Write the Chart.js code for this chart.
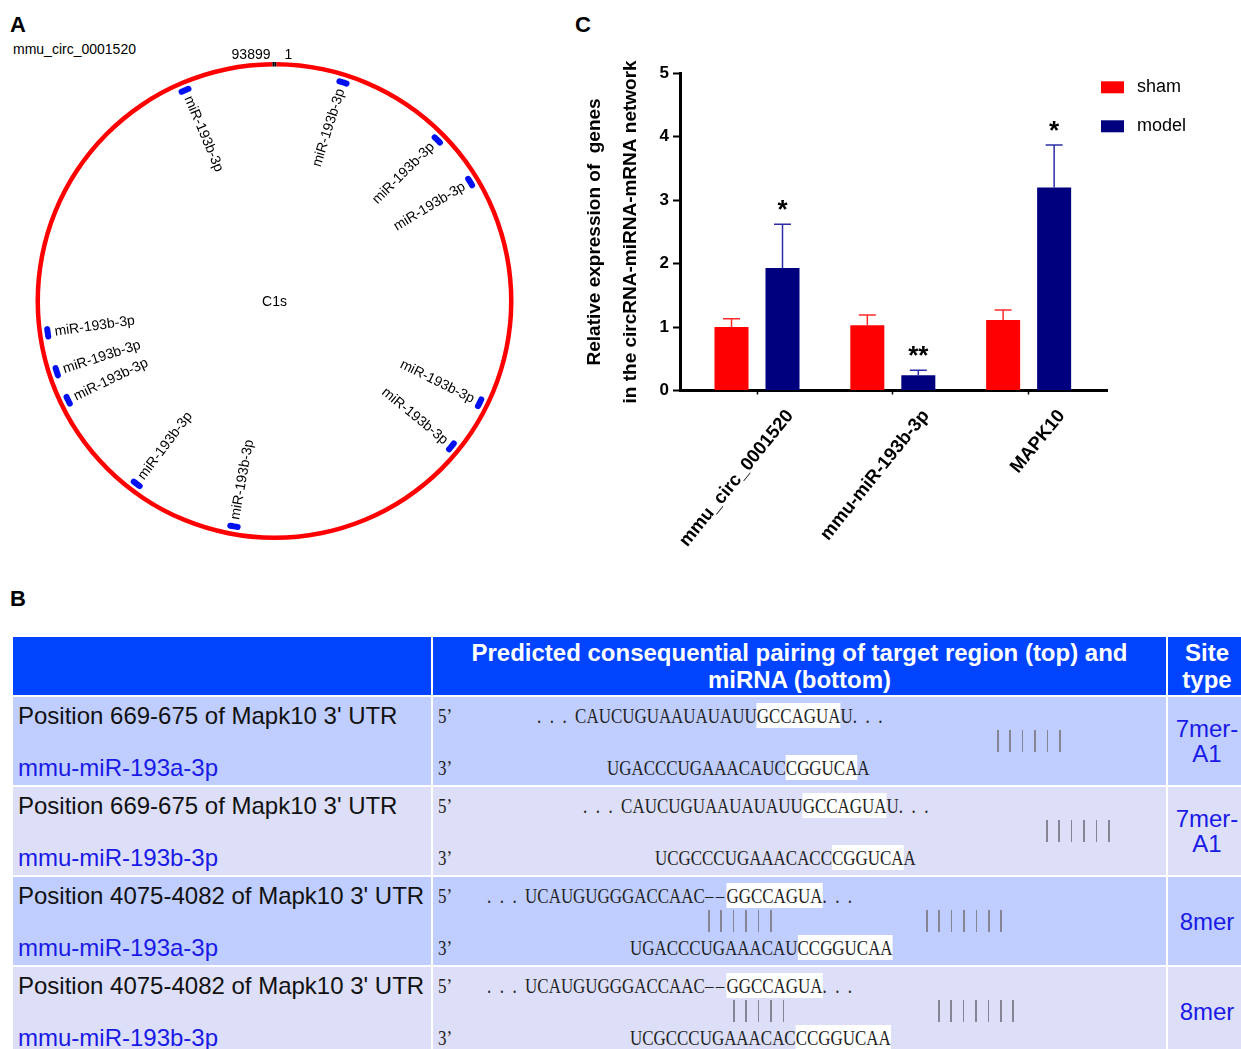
<!DOCTYPE html>
<html>
<head>
<meta charset="utf-8">
<title>mmu_circ_0001520 / miR-193b-3p / MAPK10</title>
<script src="https://cdn.jsdelivr.net/npm/chart.js@4.4.1/dist/chart.umd.min.js"></script>
<style>
  body { margin: 0; width: 1241px; height: 1049px; position: relative; overflow: hidden; background: #fff;
         font-family: "Liberation Sans", Arial, sans-serif; }
  .panel { position: absolute; font-weight: bold; font-size: 22px; line-height: 22px; }
  #circName { position: absolute; left: 13px; top: 41.6px; font-size: 14px; line-height: 14px; }
  #circBox { position: absolute; left: 0; top: 40px; width: 560px; height: 540px; }
  #barBox { position: absolute; left: 575px; top: 40px; width: 666px; height: 560px; }
  #tbl { position: absolute; left: 13px; top: 637px; width: 1240px; height: 420px; }
  .cell { position: absolute; }
  .hdr { background: #0044ff; color: #fff; font-weight: bold; font-size: 24px; line-height: 27px;
         display: flex; align-items: center; justify-content: center; text-align: center; }
  .r1 { background: #c0ceff; }
  .r2 { background: #dddff8; }
  .t { position: absolute; left: 5px; font-size: 24px; line-height: 24px; white-space: nowrap; color: #111; }
  .mi { color: #1a1ae6; }
  .seq { position: absolute; font-family: "Liberation Serif", "Times New Roman", serif; font-size: 22px;
         line-height: 24px; white-space: pre; transform: scaleX(0.77); transform-origin: 0 50%; color: #222; }
  .hi { background: #fff; }
  .gap { letter-spacing: 3px; }
  .pr { position: absolute; top: 33px; height: 22px; }
  .pr i { position: absolute; top: 0; width: 1.5px; height: 22px; background: #858595; }
  .site { color: #1a1ae6; font-size: 24px; line-height: 25px;
          display: flex; align-items: center; justify-content: center; text-align: center; }
</style>
</head>
<body>

<div class="panel" style="left:10px;top:14px">A</div>
<div class="panel" style="left:10px;top:588px">B</div>
<div class="panel" style="left:575px;top:13.5px">C</div>
<div id="circName">mmu_circ_0001520</div>

<div id="circBox"><canvas id="circChart"></canvas></div>
<div id="barBox"><canvas id="barChart"></canvas></div>

<div id="tbl">
  <div class="cell hdr" style="left:0;top:0;width:418px;height:58px"></div>
  <div class="cell hdr" style="left:420px;top:0;width:733px;height:58px">Predicted consequential pairing of target region (top) and<br>miRNA (bottom)</div>
  <div class="cell hdr" style="left:1155px;top:0;width:78px;height:58px">Site<br>type</div>

  <!-- row 1 -->
  <div class="cell r1" style="left:0;top:60px;width:418px;height:88px">
    <div class="t" style="top:7px">Position 669-675 of Mapk10 3' UTR</div>
    <div class="t mi" style="top:59px">mmu-miR-193a-3p</div>
  </div>
  <div class="cell r1" style="left:420px;top:60px;width:733px;height:88px">
    <div class="seq" style="left:5px;top:7px">5’</div>
    <div class="seq" style="left:104px;top:7px">.&ensp;.&ensp;.&ensp;CAUCUGUAAUAUAUU<span class="hi">GCCAGUA</span>U.&ensp;.&ensp;.</div>
    <div class="pr" style="left:564px" data-n="6"></div>
    <div class="seq" style="left:5px;top:59px">3’</div>
    <div class="seq" style="left:174px;top:59px">UGACCCUGAAACAUC<span class="hi">CGGUCA</span>A</div>
  </div>
  <div class="cell r1 site" style="left:1155px;top:60px;width:78px;height:88px">7mer-<br>A1</div>

  <!-- row 2 -->
  <div class="cell r2" style="left:0;top:150px;width:418px;height:88px">
    <div class="t" style="top:7px">Position 669-675 of Mapk10 3' UTR</div>
    <div class="t mi" style="top:59px">mmu-miR-193b-3p</div>
  </div>
  <div class="cell r2" style="left:420px;top:150px;width:733px;height:88px">
    <div class="seq" style="left:5px;top:7px">5’</div>
    <div class="seq" style="left:150px;top:7px">.&ensp;.&ensp;.&ensp;CAUCUGUAAUAUAUU<span class="hi">GCCAGUA</span>U.&ensp;.&ensp;.</div>
    <div class="pr" style="left:613px" data-n="6"></div>
    <div class="seq" style="left:5px;top:59px">3’</div>
    <div class="seq" style="left:222px;top:59px">UCGCCCUGAAACACC<span class="hi">CGGUCA</span>A</div>
  </div>
  <div class="cell r2 site" style="left:1155px;top:150px;width:78px;height:88px">7mer-<br>A1</div>

  <!-- row 3 -->
  <div class="cell r1" style="left:0;top:240px;width:418px;height:88px">
    <div class="t" style="top:7px">Position 4075-4082 of Mapk10 3' UTR</div>
    <div class="t mi" style="top:59px">mmu-miR-193a-3p</div>
  </div>
  <div class="cell r1" style="left:420px;top:240px;width:733px;height:88px">
    <div class="seq" style="left:5px;top:7px">5’</div>
    <div class="seq" style="left:54px;top:7px">.&ensp;.&ensp;.&ensp;UCAUGUGGGACCAAC<span class="gap">––</span><span class="hi">GGCCAGUA</span>.&ensp;.&ensp;.</div>
    <div class="pr" style="left:275px" data-n="6"></div>
    <div class="pr" style="left:493px" data-n="7"></div>
    <div class="seq" style="left:5px;top:59px">3’</div>
    <div class="seq" style="left:197px;top:59px">UGACCCUGAAACAU<span class="hi">CCGGUCAA</span></div>
  </div>
  <div class="cell r1 site" style="left:1155px;top:240px;width:78px;height:88px">8mer</div>

  <!-- row 4 -->
  <div class="cell r2" style="left:0;top:330px;width:418px;height:88px">
    <div class="t" style="top:7px">Position 4075-4082 of Mapk10 3' UTR</div>
    <div class="t mi" style="top:59px">mmu-miR-193b-3p</div>
  </div>
  <div class="cell r2" style="left:420px;top:330px;width:733px;height:88px">
    <div class="seq" style="left:5px;top:7px">5’</div>
    <div class="seq" style="left:54px;top:7px">.&ensp;.&ensp;.&ensp;UCAUGUGGGACCAAC<span class="gap">––</span><span class="hi">GGCCAGUA</span>.&ensp;.&ensp;.</div>
    <div class="pr" style="left:300px" data-n="5"></div>
    <div class="pr" style="left:505px" data-n="7"></div>
    <div class="seq" style="left:5px;top:59px">3’</div>
    <div class="seq" style="left:197px;top:59px">UCGCCCUGAAACAC<span class="hi">CCGGUCAA</span></div>
  </div>
  <div class="cell r2 site" style="left:1155px;top:330px;width:78px;height:88px">8mer</div>
</div>

<script>
// panel A: circRNA map
const circLength = 93899;
const sitePositions = [4540, 11820, 15310, 30360, 33750, 49610, 56600, 63720, 65730, 68340, 87900];
const siteLength = 880;
const startMark = 126;
const siteName = 'miR-193b-3p';
const hostGene = 'C1s';

// panel C: relative expression
const categories = ['mmu_circ_0001520', 'mmu-miR-193b-3p', 'MAPK10'];
const shamMean = [1.0, 1.03, 1.11];
const shamSem = [0.13, 0.16, 0.16];
const modelMean = [1.93, 0.24, 3.2];
const modelSem = [0.69, 0.08, 0.67];
const stars = ['*', '**', '*'];
const yTicks = [0, 1, 2, 3, 4, 5];

Chart.defaults.font.family = '"Liberation Sans", Arial, sans-serif';
Chart.defaults.color = '#000';

// pairing tick marks in the table
document.querySelectorAll('.pr').forEach(el => {
  const n = +el.dataset.n;
  for (let k = 0; k < n; k++) {
    const i = document.createElement('i');
    i.style.left = (k * 12.4) + 'px';
    el.appendChild(i);
  }
});

// ring of binding sites: gaps and sites in nt
const siteData = [], siteColors = [];
let pos = 0;
sitePositions.forEach(p => {
  const s = p - siteLength / 2;
  siteData.push(s - pos, siteLength);
  siteColors.push('rgba(0,0,0,0)', '#0010f0');
  pos = s + siteLength;
});
siteData.push(circLength - pos);
siteColors.push('rgba(0,0,0,0)');

const circLabels = {
  id: 'circLabels',
  afterDraw(chart) {
    const ctx = chart.ctx;
    const ring = chart.getDatasetMeta(0).data[0];
    const cx = ring.x, cy = ring.y, R = ring.outerRadius;
    ctx.save();
    ctx.fillStyle = '#000';
    ctx.font = '14px "Liberation Sans", Arial, sans-serif';
    ctx.textBaseline = 'alphabetic';
    ctx.textAlign = 'right';
    ctx.fillText(String(circLength), cx - 4, cy - R - 3);
    ctx.textAlign = 'left';
    ctx.fillText('1', cx + 10, cy - R - 3);
    ctx.textAlign = 'center';
    ctx.textBaseline = 'middle';
    ctx.fillText(hostGene, cx, cy + 1);

    chart.getDatasetMeta(2).data.forEach((arc, i) => {
      if (i % 2 === 0) return;
      const a = (arc.startAngle + arc.endAngle) / 2;
      const r = arc.innerRadius - 4;
      let theta = (a + Math.PI / 2) % (2 * Math.PI);
      if (theta < 0) theta += 2 * Math.PI;
      ctx.save();
      ctx.translate(cx + r * Math.cos(a), cy + r * Math.sin(a));
      if (theta < Math.PI) {
        ctx.rotate(a);
        ctx.textAlign = 'right';
      } else {
        ctx.rotate(a + Math.PI);
        ctx.textAlign = 'left';
      }
      ctx.fillText(siteName, 0, 0);
      ctx.restore();
    });
    ctx.restore();
  }
};

new Chart(document.getElementById('circChart'), {
  type: 'doughnut',
  data: {
    datasets: [
      { data: [startMark, circLength - 2 * startMark, startMark], backgroundColor: ['#000', '#ff0000', '#000'], weight: 4.5 },
      { data: [1], backgroundColor: ['rgba(0,0,0,0)'], weight: 2.5 },
      { data: siteData, backgroundColor: siteColors, weight: 6, borderRadius: c => (c.dataIndex % 2 ? 3 : 0) }
    ]
  },
  options: {
    responsive: true,
    maintainAspectRatio: false,
    animation: false,
    cutout: '94.56%',
    spacing: 0,
    borderWidth: 0,
    hoverBorderWidth: 0,
    hoverOffset: 0,
    offset: 0,
    layout: { padding: { left: 35.5, top: 22, right: 46.5, bottom: 40 } },
    events: [],
    plugins: { legend: { display: false }, tooltip: { enabled: false } }
  },
  plugins: [circLabels]
});

// error bars and significance marks
const errorBars = {
  id: 'errorBars',
  afterDatasetsDraw(chart) {
    const { ctx, scales: { y } } = chart;
    ctx.save();
    chart.data.datasets.forEach((ds, di) => {
      chart.getDatasetMeta(di).data.forEach((bar, i) => {
        const yt = y.getPixelForValue(ds.data[i].y + ds.errors[i]);
        ctx.strokeStyle = ds.errorColor;
        ctx.lineWidth = 1.5;
        ctx.beginPath();
        ctx.moveTo(bar.x, bar.y);
        ctx.lineTo(bar.x, yt);
        ctx.moveTo(bar.x - 8.5, yt);
        ctx.lineTo(bar.x + 8.5, yt);
        ctx.stroke();
        if (ds.marks) {
          ctx.fillStyle = '#000';
          ctx.font = 'bold 26px "Liberation Sans", Arial, sans-serif';
          ctx.textAlign = 'center';
          ctx.textBaseline = 'alphabetic';
          ctx.fillText(ds.marks[i], bar.x, yt - 6);
        }
      });
    });
    ctx.restore();
  }
};

// rotated category labels and legend
const barDecor = {
  id: 'barDecor',
  afterDraw(chart) {
    const { ctx, chartArea, scales: { x } } = chart;
    ctx.save();
    ctx.fillStyle = '#000';
    ctx.font = 'bold 18.5px "Liberation Sans", Arial, sans-serif';
    ctx.textAlign = 'right';
    ctx.textBaseline = 'middle';
    categories.forEach((c, i) => {
      ctx.save();
      ctx.translate(x.getPixelForValue(i) + 33, x.top + 22);
      ctx.rotate(-51 * Math.PI / 180);
      ctx.fillText(c, 0, 0);
      ctx.restore();
    });

    ctx.font = '18px "Liberation Sans", Arial, sans-serif';
    ctx.textAlign = 'left';
    chart.data.datasets.forEach((ds, i) => {
      const lx = chartArea.right - 6;
      const ly = chartArea.top + 8 + i * 39;
      ctx.fillStyle = ds.backgroundColor;
      ctx.fillRect(lx, ly, 23, 12);
      ctx.fillStyle = '#000';
      ctx.fillText(ds.label, lx + 36, ly + 6);
    });
    ctx.restore();
  }
};

new Chart(document.getElementById('barChart'), {
  type: 'bar',
  data: {
    datasets: [
      {
        label: 'sham',
        data: shamMean.map((v, i) => ({ x: i, y: v })),
        errors: shamSem,
        errorColor: '#ff2a2a',
        backgroundColor: '#ff0000',
        categoryPercentage: 0.751,
        barPercentage: 0.667
      },
      {
        label: 'model',
        data: modelMean.map((v, i) => ({ x: i, y: v })),
        errors: modelSem,
        marks: stars,
        errorColor: '#2c2ca8',
        backgroundColor: '#00007f',
        categoryPercentage: 0.751,
        barPercentage: 0.667
      }
    ]
  },
  options: {
    responsive: true,
    maintainAspectRatio: false,
    animation: false,
    events: [],
    layout: { padding: { left: 0, top: 33.3, right: 134, bottom: 0 } },
    plugins: { legend: { display: false }, tooltip: { enabled: false } },
    scales: {
      x: {
        type: 'linear',
        min: -0.567,
        max: 2.577,
        offset: false,
        afterBuildTicks: s => { s.ticks = categories.map((c, i) => ({ value: i })); },
        afterFit: s => { s.height = 209.5; },
        ticks: { display: false },
        grid: { offset: false, drawOnChartArea: false, tickLength: 4, tickWidth: 1.5, tickColor: '#000' },
        border: { width: 3, color: '#000' }
      },
      y: {
        min: yTicks[0],
        max: yTicks[yTicks.length - 1],
        afterBuildTicks: s => { s.ticks = yTicks.map(v => ({ value: v })); },
        afterFit: s => { s.width = 105; },
        ticks: { font: { size: 17, weight: 'bold' }, color: '#000', padding: 4 },
        grid: { drawOnChartArea: false, tickLength: 7, tickWidth: 2, tickColor: '#000' },
        border: { width: 3, color: '#000' },
        title: {
          display: true,
          text: ['Relative expression of  genes', 'in the circRNA-miRNA-mRNA network'],
          font: { size: 19, weight: 'bold', lineHeight: '36px' },
          color: '#000',
          padding: { top: 2, bottom: 0 }
        }
      }
    }
  },
  plugins: [errorBars, barDecor]
});
</script>
</body>
</html>
